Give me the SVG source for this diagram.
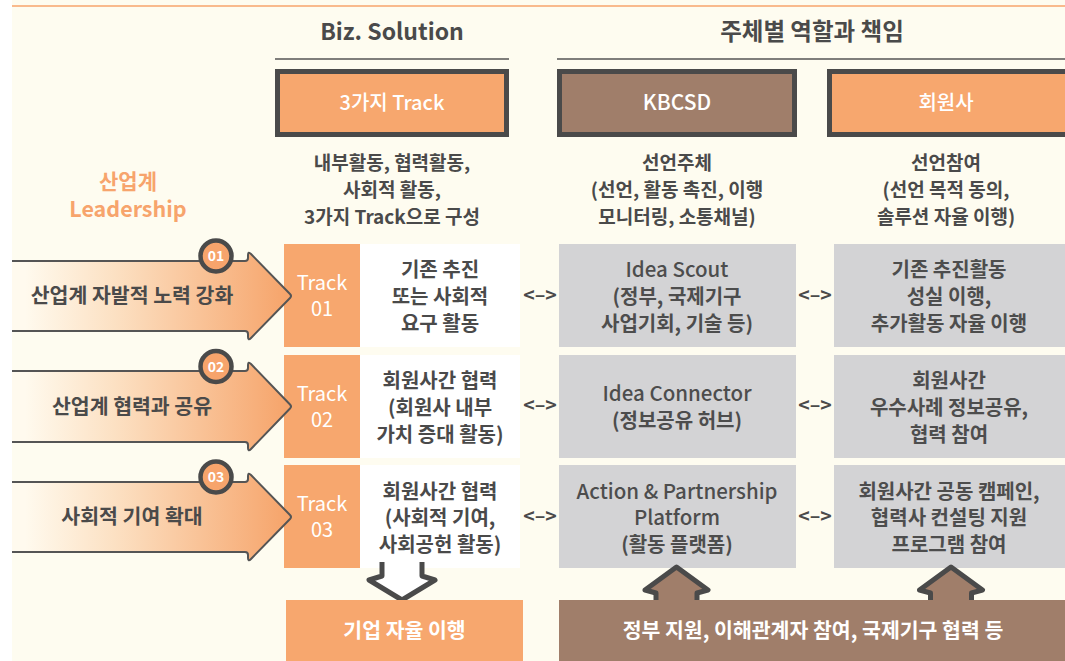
<svg xmlns="http://www.w3.org/2000/svg" width="1065" height="661" viewBox="0 0 1065 661">
<defs>
<linearGradient id="ag" gradientUnits="userSpaceOnUse" x1="25" y1="0" x2="285" y2="0">
<stop offset="0" stop-color="#FFFAEE"/>
<stop offset="0.35" stop-color="#FCE0C2"/>
<stop offset="1" stop-color="#F6A56C"/>
</linearGradient>
<style>
text{font-family:"Noto Sans CJK KR","Noto Sans",sans-serif;text-anchor:middle}
.t{fill:#4a4a4a;font-weight:700}
.d{fill:#4a4a4a;font-weight:700;font-size:19px}
.c{fill:#4a4a4a;font-weight:700;font-size:20px}
.g{fill:#4d4d4d;font-weight:700;font-size:20px}
.gl{fill:#4d4d4d;font-weight:500;font-size:20.5px}
.a{fill:#4a4a4a;font-weight:700;font-size:20.5px}
.w{fill:#fff}
.hw{fill:#fff;font-weight:500}
.tr{fill:#fff;font-size:20px}
.lr{fill:#4a4a4a;font-weight:700;font-size:19.5px}
.hb{stroke:#4a4a4a;stroke-width:5}
.or{fill:#F7A76E}
.br{fill:#A07E6A}
.gr{fill:#D3D3D5}
.wc{fill:#fff}
.arr{stroke:#555;stroke-width:2;stroke-linejoin:round}
.bd{fill:#F7A46C;stroke:#4a4a4a;stroke-width:4.5}
.bt{fill:#fff;font-weight:700;font-size:14px}
.blk{stroke:#4a4a4a;stroke-width:5;stroke-linejoin:round;stroke-linecap:butt}
</style>
</defs>
<rect x="0" y="0" width="1065" height="661" fill="#fff"/>
<rect x="12" y="0" width="1053" height="661" fill="#FEFCF0"/>
<line x1="12" y1="6" x2="1065" y2="6" stroke="#F7A46C" stroke-width="1.5"/>

<g id="titles">
<text class="t" x="392" y="40" font-size="23">Biz. Solution</text>
<line x1="275" y1="59" x2="509" y2="59" stroke="#555" stroke-width="1.5"/>
<text class="t" x="812" y="40" font-size="23.5">주체별 역할과 책임</text>
<line x1="557" y1="59" x2="1065" y2="59" stroke="#555" stroke-width="1.5"/>
</g>

<g id="leadership">
<text x="128" y="189" font-size="21" font-weight="700" fill="#F7A46C">산업계</text>
<text x="128" y="217" font-size="21.5" font-weight="700" fill="#F7A46C">Leadership</text>
</g>

<g id="header-track">
<rect class="hb or" x="277.5" y="71.5" width="229" height="63"/>
<text class="hw" x="392" y="110" font-size="20">3가지 Track</text>
<text class="d" x="392" y="170">내부활동, 협력활동,</text>
<text class="d" x="392" y="197">사회적 활동,</text>
<text class="d" x="392" y="223.5">3가지 Track으로 구성</text>
</g>
<g id="header-kbcsd">
<rect class="hb br" x="559.5" y="71.5" width="235" height="63"/>
<text class="hw" x="677" y="110" font-size="21">KBCSD</text>
<text class="d" x="677" y="170">선언주체</text>
<text class="d" x="677" y="197">(선언, 활동 촉진, 이행</text>
<text class="d" x="677" y="223.5">모니터링, 소통채널)</text>
</g>
<g id="header-member">
<rect class="hb or" x="829.5" y="71.5" width="238" height="63"/>
<text class="hw" x="946" y="110" font-size="20">회원사</text>
<text class="d" x="946" y="170">선언참여</text>
<text class="d" x="946" y="197">(선언 목적 동의,</text>
<text class="d" x="946" y="223.5">솔루션 자율 이행)</text>
</g>

<g id="row1-cells">
<rect class="or" x="284" y="244" width="76" height="103"/>
<text class="tr" x="322" y="290">Track</text>
<text class="tr" x="322" y="316">01</text>
<rect class="wc" x="360" y="244" width="160" height="103"/>
<text class="c" x="440" y="277">기존 추진</text>
<text class="c" x="440" y="304">또는 사회적</text>
<text class="c" x="440" y="330.5">요구 활동</text>
<rect class="gr" x="559" y="244" width="237" height="103"/>
<text class="gl" x="677" y="276.5">Idea Scout</text>
<text class="g" x="677" y="304">(정부, 국제기구</text>
<text class="g" x="677" y="330.5">사업기회, 기술 등)</text>
<rect class="gr" x="834" y="244" width="231" height="103"/>
<text class="g" x="949" y="276.5">기존 추진활동</text>
<text class="g" x="949" y="304">성실 이행,</text>
<text class="g" x="949" y="330.5">추가활동 자율 이행</text>
</g>

<g id="row2-cells">
<rect class="or" x="284" y="355" width="76" height="103"/>
<text class="tr" x="322" y="401">Track</text>
<text class="tr" x="322" y="427">02</text>
<rect class="wc" x="360" y="355" width="160" height="103"/>
<text class="c" x="440" y="388">회원사간 협력</text>
<text class="c" x="440" y="415">(회원사 내부</text>
<text class="c" x="440" y="441.5">가치 증대 활동)</text>
<rect class="gr" x="559" y="355" width="237" height="103"/>
<text class="gl" x="677" y="400.5">Idea Connector</text>
<text class="g" x="677" y="427.5">(정보공유 허브)</text>
<rect class="gr" x="834" y="355" width="231" height="103"/>
<text class="g" x="949" y="388">회원사간</text>
<text class="g" x="949" y="415">우수사례 정보공유,</text>
<text class="g" x="949" y="441.5">협력 참여</text>
</g>

<g id="row3-cells">
<rect class="or" x="284" y="465" width="76" height="103"/>
<text class="tr" x="322" y="511">Track</text>
<text class="tr" x="322" y="537">03</text>
<rect class="wc" x="360" y="465" width="160" height="103"/>
<text class="c" x="440" y="498.5">회원사간 협력</text>
<text class="c" x="440" y="525">(사회적 기여,</text>
<text class="c" x="440" y="551.5">사회공헌 활동)</text>
<rect class="gr" x="559" y="465" width="237" height="103"/>
<text class="gl" x="677" y="499">Action &amp; Partnership</text>
<text class="gl" x="677" y="525">Platform</text>
<text class="g" x="677" y="551.5">(활동 플랫폼)</text>
<rect class="gr" x="834" y="465" width="231" height="103"/>
<text class="g" x="949" y="498.5">회원사간 공동 캠페인,</text>
<text class="g" x="949" y="525">협력사 컨설팅 지원</text>
<text class="g" x="949" y="551.5">프로그램 참여</text>
</g>

<g id="connectors">
<text class="lr" x="540" y="302">&lt;–&gt;</text>
<text class="lr" x="815" y="302">&lt;–&gt;</text>
<text class="lr" x="540" y="412">&lt;–&gt;</text>
<text class="lr" x="815" y="412">&lt;–&gt;</text>
<text class="lr" x="540" y="523">&lt;–&gt;</text>
<text class="lr" x="815" y="523">&lt;–&gt;</text>
<path class="blk" fill="#fff" d="M382,562 V576 L369,580 L402,600 L435,580 L422,576 V562"/>
<path class="blk br" d="M656,602 V593 L645,590 L676.5,567 L708,590 L697,593 V602"/>
<path class="blk br" d="M930.5,602 V593 L919.5,590 L951,567 L982.5,590 L971.5,593 V602"/>
</g>

<g id="arrow1">
<path class="arr" fill="url(#ag)" d="M12,261 H245 Q248,261 248,258 V255 Q248,251 251,254 L290,294 Q292,296 290,298 L251,338 Q248,341 248,337 V334 Q248,331 245,331 H12"/>
<text class="a" x="132" y="303">산업계 자발적 노력 강화</text>
<circle class="bd" cx="216" cy="256" r="15.5"/>
<text class="bt" x="216" y="261">01</text>
</g>
<g id="arrow2">
<path class="arr" fill="url(#ag)" d="M12,371 H245 Q248,371 248,368 V365 Q248,361 251,364 L290,404.5 Q292,406.5 290,408.5 L251,449 Q248,452 248,448 V445 Q248,442 245,442 H12"/>
<text class="a" x="132" y="414">산업계 협력과 공유</text>
<circle class="bd" cx="216" cy="366.5" r="15.5"/>
<text class="bt" x="216" y="371.5">02</text>
</g>
<g id="arrow3">
<path class="arr" fill="url(#ag)" d="M12,482 H245 Q248,482 248,479 V476 Q248,472 251,475 L290,515 Q292,517 290,519 L251,559 Q248,562 248,558 V555 Q248,552 245,552 H12"/>
<text class="a" x="132" y="524">사회적 기여 확대</text>
<circle class="bd" cx="216" cy="477" r="15.5"/>
<text class="bt" x="216" y="482">03</text>
</g>

<g id="bottom-left">
<rect class="or" x="286" y="600" width="237" height="61"/>
<text class="w" x="404.5" y="638" font-size="20.5" font-weight="700">기업 자율 이행</text>
</g>
<g id="bottom-right">
<rect class="br" x="559" y="600" width="506" height="61"/>
<text class="w" x="813" y="638" font-size="20.5" font-weight="700">정부 지원, 이해관계자 참여, 국제기구 협력 등</text>
</g>
</svg>
